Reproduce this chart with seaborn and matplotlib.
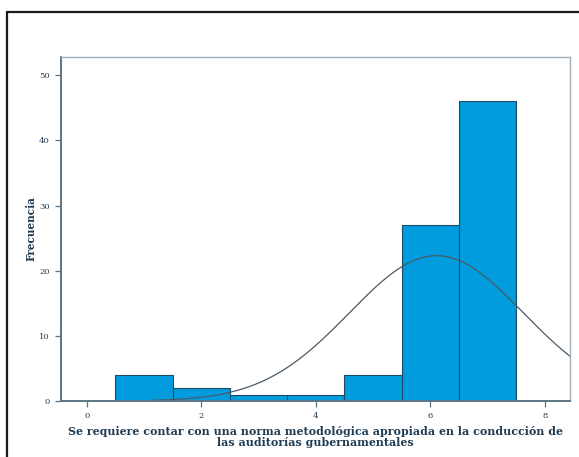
import numpy as np
import pandas as pd
import matplotlib
matplotlib.use("Agg")
import matplotlib.pyplot as plt
from matplotlib.lines import Line2D
import seaborn as sns

# Response scale values and their frequencies
scores = [1, 2, 3, 4, 5, 6, 7]
counts = [4, 2, 1, 1, 4, 27, 46]
x_ticks = [0, 2, 4, 6, 8]
y_ticks = [0, 10, 20, 30, 40, 50]
x_title = "Se requiere contar con una norma metodológica apropiada en la conducción de\nlas auditorías gubernamentales"
y_title = "Frecuencia"

df = pd.DataFrame({"score": scores, "count": counts})

sns.set_style("white")
plt.rcParams["font.family"] = ["DejaVu Serif", "DejaVu Sans"]

fig = plt.figure(figsize=(5.79, 4.57), dpi=100)
ax = fig.add_axes([0.1054, 0.1225, 0.8791, 0.7528])

bar_color = "#009CDD"
edge = "#1d4a66"
ink = "#1f3c55"
spine_c = "#5d7585"

sns.histplot(data=df, x="score", weights="count", discrete=True,
             color=bar_color, edgecolor=edge, linewidth=0.8, alpha=1.0, ax=ax)

# Normal curve fitted to the frequency distribution
vals = np.repeat(scores, counts)
n = vals.size
mu = vals.mean()
sd = vals.std(ddof=1)
xs = np.linspace(1.15, 8.44, 300)
ys = n * 1.0 / (sd * np.sqrt(2 * np.pi)) * np.exp(-0.5 * ((xs - mu) / sd) ** 2)
sns.lineplot(x=xs, y=ys, color="#4a5a66", linewidth=0.9, ax=ax)

ax.set_xlim(-0.45, 8.44)
ax.set_ylim(0, 52.8)
ax.set_xticks(x_ticks)
ax.set_yticks(y_ticks)
ax.tick_params(axis="both", which="both", direction="out", length=4, width=0.9,
               color=spine_c, labelsize=6, labelcolor=ink, pad=4)
ax.tick_params(axis="x", bottom=True)
ax.tick_params(axis="y", left=True)

for s in ["top", "right"]:
    ax.spines[s].set_visible(True)
    ax.spines[s].set_color("#9fb0bb")
    ax.spines[s].set_linewidth(1.0)
for s in ["left", "bottom"]:
    ax.spines[s].set_color(spine_c)
    ax.spines[s].set_linewidth(1.4)

ax.set_xlabel(x_title, fontsize=7.9, fontweight="bold", color=ink,
              linespacing=1.0, labelpad=4)
ax.set_ylabel(y_title, fontsize=7.6, fontweight="bold", color=ink, labelpad=2)

# Outer frame lines along the top and left edges
fig.add_artist(Line2D([7 / 579, 1.0], [1 - 11.5 / 457, 1 - 11.5 / 457],
                      transform=fig.transFigure, color="#1a1a1a", linewidth=1.6))
fig.add_artist(Line2D([7 / 579, 7 / 579], [0.0, 1 - 11.5 / 457],
                      transform=fig.transFigure, color="#1a1a1a", linewidth=1.6))

fig.savefig("out.png", dpi=100, facecolor="white")
